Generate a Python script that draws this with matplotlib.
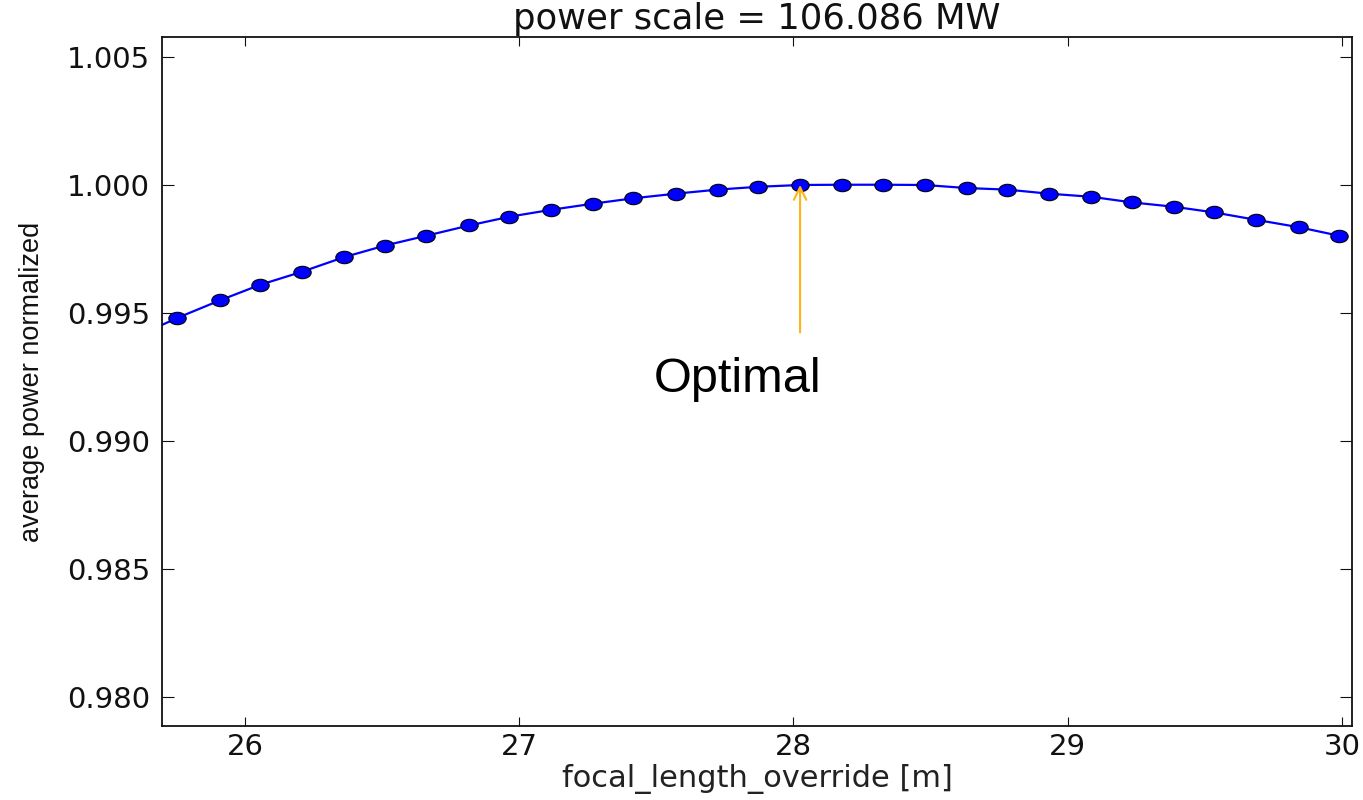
import numpy as np
import matplotlib
matplotlib.use("Agg")
import matplotlib.pyplot as plt
from matplotlib.path import Path
from matplotlib.transforms import Affine2D

# focal length scan and the normalized average power at each step
focal_length = [25.601, 25.754, 25.908, 26.055, 26.208, 26.361, 26.509, 26.662,
                26.818, 26.964, 27.116, 27.269, 27.416, 27.570, 27.724,
                27.872, 28.024, 28.178, 28.325, 28.478, 28.632, 28.778,
                28.932, 29.085, 29.234, 29.387, 29.533, 29.686, 29.843,
                29.988]
avg_power = [0.99406, 0.99481, 0.99549, 0.99610, 0.99661, 0.99718, 0.99763,
             0.99802, 0.99842, 0.99876, 0.99903, 0.99927, 0.99948, 0.99966,
             0.99982, 0.99993, 1.00000, 1.00001, 1.00001, 1.00000, 0.99988,
             0.99982, 0.99966, 0.99954, 0.99932, 0.99915, 0.99893, 0.99864,
             0.99835, 0.99802]
power_scale = 106.086
optimal_f = 28.024
optimal_p = 1.00000

xticks = [26, 27, 28, 29, 30]
yticks = [0.980, 0.985, 0.990, 0.995, 1.000, 1.005]

fig = plt.figure(figsize=(13.63, 8.0), dpi=100)
ax = fig.add_axes([0.1189, 0.0925, 0.8730, 0.86125])

# slightly wide dots
ellipse = Path.unit_circle().transformed(Affine2D().scale(1.4, 1.0))
ax.plot(focal_length, avg_power, color="b", lw=1.6, marker=ellipse,
        markersize=12.5, markerfacecolor="b", markeredgecolor="k",
        markeredgewidth=0.8)

ax.set_xlim(25.698, 30.036)
ax.set_ylim(0.97887, 1.00578)
ax.set_xticks(xticks)
ax.set_yticks(yticks)
ax.set_yticklabels(["%.3f" % v for v in yticks])

ax.tick_params(axis="both", which="major", direction="in", top=True,
               right=True, labelsize=21, colors="#111111")
ax.tick_params(axis="y", length=8.5, pad=8.5)
ax.tick_params(axis="x", length=6.5, pad=5)
for sp in ax.spines.values():
    sp.set_linewidth(1.3)
    sp.set_color("#111111")

ax.set_title("power scale = %.3f MW" % power_scale, fontsize=25.5, pad=6,
             color="#111111")
ax.set_xlabel("focal_length_override [m]", fontsize=22, color="#222222",
              labelpad=2)
ax.set_ylabel("average power normalized", fontsize=19.5,
              family=["Liberation Sans Narrow", "Liberation Sans"],
              color="#111111")
ax.yaxis.set_label_coords(-0.098, 0.5)

ax.annotate("", xy=(optimal_f, optimal_p), xytext=(optimal_f, 0.99424),
            arrowprops=dict(arrowstyle="->,head_length=0.9,head_width=0.45",
                            color="#FFB31A", lw=1.5, shrinkA=0, shrinkB=0))
ax.text(27.49, 0.99193, "Optimal", fontsize=35, family="Liberation Sans",
        color="black", ha="left", va="baseline")

fig.savefig("out.png", dpi=100)
